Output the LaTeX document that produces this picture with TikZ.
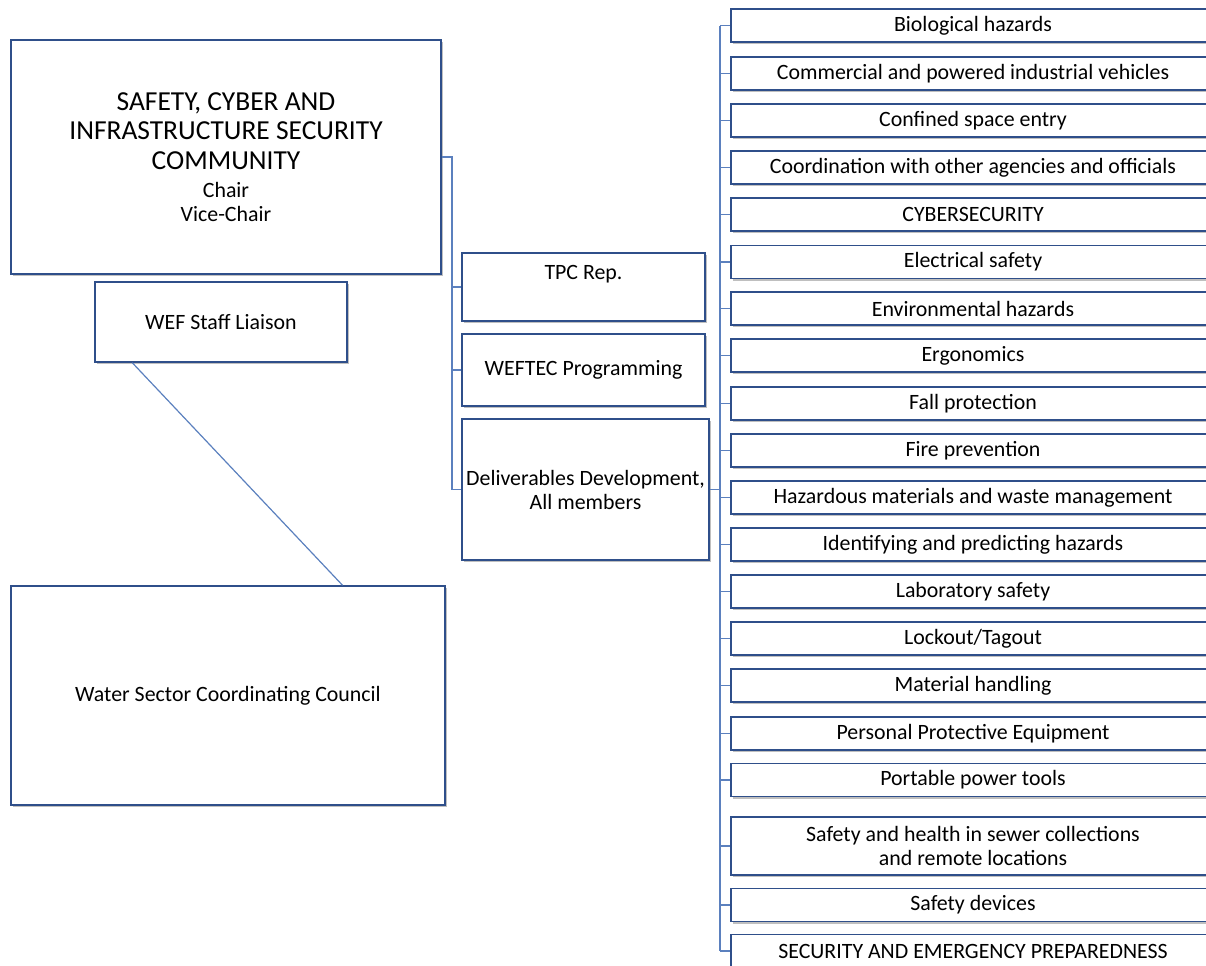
\documentclass[tikz,border=0pt]{standalone}
\usepackage{fontspec}
\setmainfont{Carlito}
\usetikzlibrary{positioning,calc,shadows}

\definecolor{boxline}{HTML}{2F4F8A}
\definecolor{linkline}{HTML}{5B80BE}

\newcommand{\titlesize}{\fontsize{20.6}{22.1}\selectfont}
\newcommand{\bodysize}{\fontsize{16.4}{18}\selectfont}

\begin{document}
\begin{tikzpicture}[
    x=0.75pt, y=-0.75pt,
    box/.style={rectangle, draw=boxline, line width=1.1pt, fill=white, inner sep=1pt, align=center,
        font=\bodysize,
        drop shadow={shadow xshift=1.4pt, shadow yshift=-1.6pt, opacity=0.25, fill=black}},
    topic/.style={box, minimum width=363pt, minimum height=24.75pt},
    link/.style={draw=linkline, line width=1.2pt},
]
\useasboundingbox (0,0) rectangle (1206,965);

% ====== Community and council ======
\node[box, minimum width=322.5pt, minimum height=175.5pt] (main) at (226,157)
{\titlesize SAFETY, CYBER AND\\[4.1pt]\titlesize INFRASTRUCTURE SECURITY\\[4.1pt]\titlesize COMMUNITY\\[3pt]Chair\\Vice-Chair};
\node[box, minimum width=189pt, minimum height=60pt] (liaison) at (221,322) {WEF Staff Liaison};
\node[box, minimum width=325.5pt, minimum height=164.25pt] (council) at (228,695.5) {Water Sector Coordinating Council};

\draw[link, line width=0.9pt] ($(liaison.south west)!0.15!(liaison.south east)$) -- ($(council.north west)!0.763!(council.north east)$);

% ====== Member roles ======
\node[box, minimum width=182.25pt, minimum height=51pt] (tpc) at (583.5,287) {TPC Rep.\\[-1pt]\strut};
\node[box, minimum width=182.25pt, minimum height=54pt] (weftec) at (583.5,370) {WEFTEC Programming};
\node[box, minimum width=185.25pt, minimum height=105.75pt] (deliv) at (585.5,489.5) {Deliverables Development,\\All members};

\coordinate (spineL) at (452,0);
\draw[link] (main.east) -- (spineL |- main.east) -- (spineL |- deliv.west) -- (deliv.west);
\draw[link] (spineL |- tpc.west) -- (tpc.west);
\draw[link] (spineL |- weftec.west) -- (weftec.west);

% ====== Topics ======
\foreach \n/\yc/\txt in {
    1/25.5/Biological hazards,
    2/73.5/Commercial and powered industrial vehicles,
    3/120.5/Confined space entry,
    4/167.5/Coordination with other agencies and officials,
    5/214.5/CYBERSECURITY,
    6/262/Electrical safety,
    7/308.5/Environmental hazards,
    8/355.5/Ergonomics,
    9/403.5/Fall protection,
    10/450.5/Fire prevention,
    11/497.5/Hazardous materials and waste management,
    12/544.5/Identifying and predicting hazards,
    13/591.5/Laboratory safety,
    14/638.5/{Lockout/Tagout},
    15/685.5/Material handling,
    16/733.5/Personal Protective Equipment,
    17/780/Portable power tools,
    19/905/Safety devices,
    20/951/SECURITY AND EMERGENCY PREPAREDNESS}
    \node[topic] (t\n) at (973,\yc) {\txt};
\node[topic, minimum height=43.5pt] (t18) at (973,846) {Safety and health in sewer collections\\and remote locations};

\coordinate (spineR) at (720,0);
\draw[link] (deliv.east) -- (spineR |- deliv.east);
\draw[link] (spineR |- t1.west) -- (spineR |- t20.west);
\foreach \n in {1,...,20}
    \draw[link] (spineR |- t\n.west) -- (t\n.west);

\end{tikzpicture}
\end{document}
